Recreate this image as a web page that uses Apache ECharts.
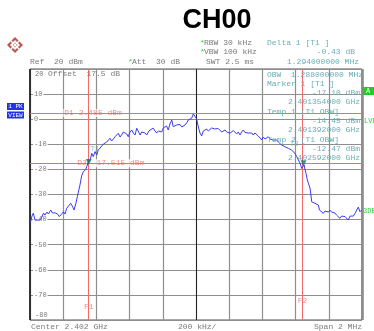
<!DOCTYPE html>
<html><head><meta charset="utf-8">
<script src="https://cdn.jsdelivr.net/npm/echarts@6/dist/echarts.min.js"></script>
<style>html,body{margin:0;padding:0;background:#fff}#c{width:374px;height:331px}</style>
</head><body><div id="c"></div><script>
// Frequency offset from 2.401 GHz (MHz) and trace level (dBm)
const freqOffsetMHz = [0.003,0.012,0.020,0.030,0.042,0.060,0.072,0.081,0.090,0.102,0.111,0.125,0.136,0.151,0.166,0.177,0.190,0.201,0.211,0.221,0.231,0.245,0.257,0.265,0.277,0.285,0.291,0.301,0.311,0.321,0.336,0.342,0.351,0.357,0.364,0.372,0.381,0.392,0.402,0.411,0.422,0.432,0.442,0.452,0.462,0.472,0.482,0.492,0.502,0.512,0.522,0.532,0.542,0.552,0.562,0.572,0.583,0.592,0.602,0.613,0.622,0.633,0.643,0.652,0.663,0.673,0.683,0.693,0.703,0.713,0.723,0.733,0.743,0.753,0.763,0.773,0.783,0.793,0.803,0.813,0.823,0.833,0.843,0.854,0.863,0.873,0.884,0.893,0.904,0.914,0.923,0.934,0.944,0.954,0.964,0.974,0.984,0.994,1.004,1.014,1.024,1.034,1.044,1.054,1.064,1.074,1.084,1.094,1.104,1.114,1.125,1.134,1.145,1.155,1.164,1.175,1.185,1.195,1.205,1.215,1.225,1.235,1.245,1.255,1.265,1.275,1.285,1.295,1.305,1.315,1.325,1.336,1.345,1.355,1.366,1.375,1.386,1.396,1.405,1.416,1.426,1.435,1.446,1.456,1.466,1.476,1.487,1.496,1.506,1.516,1.526,1.536,1.546,1.556,1.566,1.576,1.586,1.596,1.607,1.616,1.627,1.637,1.646,1.651,1.657,1.663,1.669,1.677,1.681,1.687,1.693,1.697,1.707,1.717,1.727,1.737,1.744,1.747,1.756,1.767,1.777,1.787,1.797,1.807,1.817,1.827,1.837,1.847,1.857,1.867,1.877,1.887,1.898,1.908,1.917,1.928,1.938,1.948,1.958,1.968,1.978,1.988,1.998];
const levelDbm = [-41.0,-38.6,-37.4,-40.2,-39.8,-40.2,-39.0,-37.4,-38.2,-37.0,-37.8,-36.2,-37.4,-37.3,-37.8,-38.8,-37.8,-36.9,-37.8,-35.5,-35.9,-33.5,-34.9,-36.2,-33.4,-30.9,-30.2,-26.2,-22.6,-21.0,-20.0,-18.9,-17.1,-16.5,-15.9,-13.6,-14.9,-12.9,-14.3,-12.3,-11.5,-11.1,-9.9,-10.3,-9.1,-8.7,-7.6,-8.7,-7.9,-7.0,-7.5,-5.6,-7.1,-6.3,-5.1,-5.0,-5.9,-7.0,-5.1,-4.3,-5.5,-6.3,-3.6,-4.7,-6.3,-5.1,-4.7,-5.5,-6.3,-5.1,-4.3,-4.7,-3.6,-4.7,-5.5,-4.7,-4.3,-5.1,-3.5,-3.9,-2.7,-4.3,-1.9,-0.3,-3.0,-3.1,-2.3,-2.7,-2.1,-3.1,-2.7,-2.3,-1.5,-0.3,-0.7,0.4,2.1,2.485,0.1,-3.1,-5.5,-6.7,-4.7,-5.0,-3.9,-4.7,-4.3,-3.5,-3.0,-3.9,-4.3,-3.7,-4.3,-5.1,-5.0,-4.3,-5.1,-4.7,-5.6,-5.1,-4.5,-5.1,-5.9,-5.1,-6.3,-5.1,-4.3,-5.3,-4.7,-5.5,-5.0,-5.5,-6.3,-5.5,-5.6,-6.7,-7.5,-8.3,-7.1,-7.9,-7.3,-7.0,-7.9,-7.3,-8.3,-7.6,-8.3,-9.1,-9.5,-10.3,-10.3,-11.0,-10.7,-11.6,-11.5,-12.3,-12.5,-13.6,-14.9,-15.3,-17.6,-19.6,-19.0,-18.2,-20.2,-21.6,-23.8,-25.5,-26.2,-27.5,-30.6,-32.9,-32.9,-33.5,-33.8,-34.2,-36.2,-36.9,-35.8,-37.5,-36.6,-36.4,-37.0,-36.2,-37.0,-36.6,-37.4,-38.2,-38.6,-39.5,-38.6,-38.2,-38.8,-39.5,-40.2,-38.6,-38.2,-38.6,-37.5,-37.8,-35.0,-36.9,-36.2];
// Markers (triangles): Marker 1 and Delta 1
const markerFreq = [0.354, 1.648];
const markerLevel = [-17.10, -17.53];
// OBW temp markers
const tempNames = ['T1', 'T2'];
const tempFreq = [0.392, 1.592];
const tempLevel = [-14.45, -12.47];
// Display lines
const displayLineNames = ['D1 2.485 dBm', 'D2 -17.515 dBm'];
const displayLineLevels = [2.485, -17.515];
const freqLineNames = ['F1', 'F2'];
const freqLineValues = [0.354, 1.642];
const yTicks = [20, 10, 0, -10, -20, -30, -40, -50, -60, -70, -80];

const MONO = '"Liberation Mono", "DejaVu Sans Mono", monospace';
const GRAY = '#7a7a7a';
const TEAL = '#6aaeb4';
const RED = '#f26a6a';
const GREEN = '#33cc33';

const trace = [];
for (let i = 0; i < Math.min(freqOffsetMHz.length, levelDbm.length); i++) trace.push([freqOffsetMHz[i], levelDbm[i]]);

function t(text, x, y, fill, align, size) {
  return { type: 'text', x: x, y: y, z: 50, style: { text: text, fill: fill || GRAY, font: (size || 8) + 'px ' + MONO, textAlign: align || 'left', textVerticalAlign: 'middle' } };
}

const chart = echarts.init(document.getElementById('c'), null, { renderer: 'canvas' });
chart.setOption({
  animation: false,
  backgroundColor: '#fff',
  grid: { left: 30, right: 12, top: 69, bottom: 11, show: true, borderColor: '#555', borderWidth: 1, backgroundColor: 'transparent' },
  xAxis: {
    type: 'value', min: 0, max: 2, interval: 0.2,
    axisLine: { show: false }, axisTick: { show: false }, axisLabel: { show: false },
    splitLine: { show: true, lineStyle: { color: '#8e8e8e', width: 1.2 } }
  },
  yAxis: {
    type: 'value', min: -80, max: 20, interval: 10,
    axisLine: { show: false }, axisTick: { show: false },
    splitLine: { show: true, lineStyle: { color: '#8e8e8e', width: 1.2 } },
    axisLabel: {
      inside: true, margin: 3, color: GRAY, fontSize: 7, fontFamily: MONO,
      formatter: function (v) {
        if (v === 20) return '{t|20}';
        if (v === -80) return '{b|-80}';
        return '{n|' + v + '}';
      },
      rich: {
        t: { color: GRAY, fontSize: 7, fontFamily: MONO, padding: [10, 0, 0, 2] },
        b: { color: GRAY, fontSize: 7, fontFamily: MONO, padding: [0, 0, 10, 2] },
        n: { color: GRAY, fontSize: 7, fontFamily: MONO, backgroundColor: '#fff', padding: [0, 1, 0, 1] }
      }
    }
  },
  series: [
    {
      type: 'line', data: trace, symbol: 'none', z: 5,
      lineStyle: { color: '#3b3bf0', width: 1 },
      markLine: {
        silent: true, symbol: 'none', label: { show: false },
        data: [
          { xAxis: 1, lineStyle: { color: '#222', width: 1, type: 'solid' } },
          { xAxis: 0, lineStyle: { color: '#111', width: 1.5, type: 'solid' } },
          { xAxis: 2, lineStyle: { color: '#8a8a8a', width: 2.5, type: 'solid' } }
        ]
      }
    },
    {
      type: 'line', data: [], z: 3,
      markLine: {
        silent: true, symbol: 'none', label: { show: false },
        lineStyle: { color: RED, width: 1, type: 'solid' },
        data: displayLineLevels.map(v => ({ yAxis: v })).concat(freqLineValues.map(v => ({ xAxis: v })))
      }
    },
    {
      // display line labels
      type: 'scatter', symbolSize: 0, z: 4, silent: true,
      data: [
        { value: [0.38, displayLineLevels[0]], name: displayLineNames[0] },
        { value: [0.487, displayLineLevels[1]], name: displayLineNames[1] },
        { value: [freqLineValues[0], -74.8], name: freqLineNames[0] },
        { value: [freqLineValues[1], -72.4], name: freqLineNames[1] }
      ],
      label: { show: true, position: 'inside', formatter: '{b}', color: RED, fontSize: 8, fontFamily: MONO, backgroundColor: '#fff', padding: [0, 1] }
    },
    {
      type: 'scatter', symbol: 'triangle', symbolRotate: 180, symbolSize: 6, z: 8,
      itemStyle: { color: '#1f6f6a' },
      data: markerFreq.map((f, i) => [f, markerLevel[i]])
    },
    {
      type: 'scatter', symbolSize: 0, z: 8, silent: true,
      data: tempFreq.map((f, i) => ({ value: [f, tempLevel[i]], name: tempNames[i] })),
      label: { show: true, position: 'top', distance: 3, formatter: '{b}', color: TEAL, fontSize: 7, fontFamily: MONO }
    }
  ],
  graphic: [
    { type: 'text', x: 217, y: 21, z: 50, style: { text: 'CH00', fill: '#000', font: 'bold 27px "Liberation Sans", Arial, sans-serif', textAlign: 'center', textVerticalAlign: 'middle' } },
    // logo
    { type: 'polygon', z: 50, shape: { points: [[15, 37], [23, 45], [15, 53], [7, 45]] }, style: { fill: '#b85a52' } },
    { type: 'polygon', z: 51, shape: { points: [[15, 40], [20, 45], [15, 50], [10, 45]] }, style: { fill: '#fff' } },
    { type: 'polygon', z: 52, shape: { points: [[15, 42.5], [17.5, 45], [15, 47.5], [12.5, 45]] }, style: { fill: '#b85a52' } },
    { type: 'line', z: 52, shape: { x1: 11, y1: 41, x2: 19, y2: 49 }, style: { stroke: '#fff', lineWidth: 1.2 } },
    { type: 'line', z: 52, shape: { x1: 19, y1: 41, x2: 11, y2: 49 }, style: { stroke: '#fff', lineWidth: 1.2 } },
    // header
    t('*', 200, 43, GREEN), t('RBW 30 kHz', 204, 43),
    t('*', 200, 52, GREEN), t('VBW 100 kHz', 204, 52),
    t('Ref  20 dBm', 30, 62),
    t('*', 128, 62, GREEN), t('Att  30 dB', 132, 62),
    t('SWT 2.5 ms', 206, 62),
    t('Delta 1 [T1 ]', 267, 43, TEAL),
    t('-0.43 dB', 355, 52, TEAL, 'right'),
    t('1.294000000 MHz', 359, 62, TEAL, 'right'),
    // in-plot
    t('Offset  17.5 dB', 48, 74),
    t('OBW  1.288000000 MHz', 267, 75, TEAL),
    t('Marker 1 [T1 ]', 267, 84, TEAL),
    t('-17.10 dBm', 360, 93, TEAL, 'right'),
    t('2.401354000 GHz', 360, 102, TEAL, 'right'),
    t('Temp 1 [T1 OBW]', 267, 111.5, TEAL),
    t('-14.45 dBm', 360, 121, TEAL, 'right'),
    t('2.401392000 GHz', 360, 130, TEAL, 'right'),
    t('Temp 2 [T1 OBW]', 267, 139.5, TEAL),
    t('-12.47 dBm', 360, 149, TEAL, 'right'),
    t('2.402592000 GHz', 360, 157.5, TEAL, 'right'),
    // right side labels
    { type: 'rect', z: 50, shape: { x: 363, y: 87, width: 11, height: 8 }, style: { fill: '#22cc22' } },
    t('A', 366, 91, '#fff', 'left', 7),
    t('LVL', 364, 121, GREEN, 'left', 7),
    t('3DB', 363, 211, GREEN, 'left', 7),
    // left boxes
    { type: 'rect', z: 50, shape: { x: 7, y: 103, width: 17, height: 7 }, style: { fill: '#2233dd' } },
    t('1 PK', 15.5, 106.5, '#fff', 'center', 6),
    { type: 'rect', z: 50, shape: { x: 7, y: 111.5, width: 17, height: 7 }, style: { fill: '#2233dd' } },
    t('VIEW', 15.5, 115, '#fff', 'center', 6),
    // bottom
    t('Center 2.402 GHz', 31, 326.5),
    t('200 kHz/', 178, 326.5),
    t('Span 2 MHz', 362, 326.5, GRAY, 'right')
  ]
});
</script></body></html>
